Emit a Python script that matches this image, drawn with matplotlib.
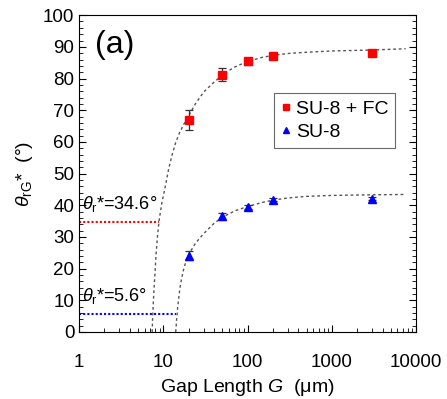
import matplotlib.pyplot as plt
from matplotlib.lines import Line2D

plt.rcParams['font.family'] = ['Liberation Sans', 'DejaVu Sans']
plt.rcParams['mathtext.fontset'] = 'custom'
plt.rcParams['mathtext.rm'] = 'Liberation Sans'
plt.rcParams['mathtext.it'] = 'Liberation Sans:italic'

# measured points
gap = [20, 50, 100, 200, 3000]
fc_theta = [66.8, 81.2, 85.4, 87.2, 88.1]
fc_err = [3.2, 2.1, 1.0, 0.5, 1.0]
su8_theta = [24.1, 36.6, 39.4, 41.8, 42.1]
su8_err = [1.5, 1.1, 0.7, 0.6, 0.5]

# fitted curves
fc_fit_g = [7.35, 7.55, 7.77, 8.0, 8.2, 8.5, 8.9, 9.6, 10.5, 11.5, 12.6, 14, 15.5, 17.5, 20, 24, 30, 40,
            55, 70, 100, 150, 200, 300, 500, 1000, 3000, 7500]
fc_fit_t = [0, 8.0, 14.2, 19.8, 24.7, 30.0, 35.2, 40.8, 45.7, 51.2, 55.6, 59.8, 62.8, 65.6, 68.2, 72.0, 75.7, 78.9,
            81.9, 83.6, 85.4, 86.7, 87.3, 87.9, 88.3, 88.7, 89.0, 89.4]
su8_fit_g = [14.0, 14.4, 14.8, 15.3, 15.8, 16.5, 17.3, 18.5, 20, 24, 30, 40, 50, 70, 100, 150, 200, 300, 500,
             1000, 3000, 7500]
su8_fit_t = [0, 4.2, 7.9, 11.3, 14.2, 17.0, 19.5, 22.2, 24.5, 28.0, 31.0, 34.3, 36.2, 38.2, 39.6, 40.9, 41.6,
             42.3, 42.8, 43.1, 43.3, 43.4]

# receding angle levels
fc_recede = 34.6
su8_recede = 5.6

fig = plt.figure(figsize=(4.47, 3.99), dpi=100)
ax = fig.add_axes([0.177, 0.168, 0.754, 0.794])

ax.plot(fc_fit_g, fc_fit_t, color='#555555', lw=1, ls=(0, (2, 2)))
ax.plot(su8_fit_g, su8_fit_t, color='#555555', lw=1, ls=(0, (2, 2)))

ax.plot([1, 8.9], [fc_recede, fc_recede], color='red', lw=1.5, ls=(0, (1, 1)))
ax.plot([1, 14.0], [su8_recede, su8_recede], color='blue', lw=1.5, ls=(0, (1, 1)))

ax.errorbar(gap, fc_theta, yerr=fc_err, fmt='s', color='red', ms=5.5,
            ecolor='#333333', elinewidth=0.9, capsize=3, capthick=0.9)
ax.errorbar(gap, su8_theta, yerr=su8_err, fmt='^', color='blue', ms=6,
            ecolor='#333333', elinewidth=0.9, capsize=3, capthick=0.9)

ax.text(1.08, 37.3, r'$\theta_{\mathrm{r}}$*=34.6°', fontsize=13, va='bottom')
ax.text(1.08, 8.3, r'$\theta_{\mathrm{r}}$*=5.6°', fontsize=13, va='bottom')
ax.text(1.55, 90.5, '(a)', fontsize=23, va='center')

ax.set_xscale('log')
ax.set_xlim(1, 10000)
ax.set_ylim(0, 100)
ax.set_yticks(range(0, 101, 10))
ax.set_yticks(range(0, 101, 2), minor=True)
ax.set_xticks([1, 10, 100, 1000, 10000])
ax.set_xticklabels(['1', '10', '100', '1000', '10000'])
ax.tick_params(which='both', direction='in', right=True, top=False, labelsize=13.5)
ax.tick_params(which='major', length=5)
ax.tick_params(which='minor', length=3)
ax.tick_params(axis='x', pad=16)

ax.set_xlabel(r'Gap Length $G$  (μm)', fontsize=14)
ax.set_ylabel(r'$\theta_{\mathrm{rG}}$*  (°)', fontsize=14, labelpad=6)

handles = [Line2D([], [], marker='s', color='red', ls='none', ms=4.5),
           Line2D([], [], marker='^', color='blue', ls='none', ms=4.5)]
leg = ax.legend(handles, ['SU-8 + FC', 'SU-8'], loc='upper left', bbox_to_anchor=(0.577, 0.754),
                borderaxespad=0, fontsize=14, frameon=True, fancybox=False, edgecolor='#444444',
                handletextpad=0.2, handlelength=0.6, borderpad=0.35, labelspacing=0.3)
leg.get_frame().set_linewidth(0.8)

fig.savefig('out.png', dpi=100)
